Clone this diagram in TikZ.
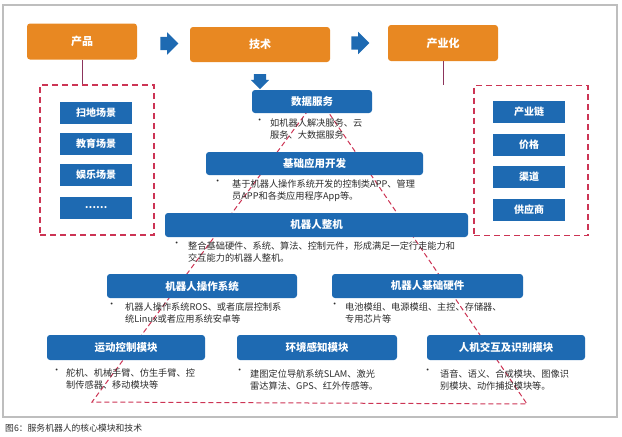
\documentclass[tikz,border=0pt]{standalone}
\usepackage{fontspec}
\setmainfont{Noto Sans CJK SC}
\usetikzlibrary{shapes.arrows, positioning}

\definecolor{stageorange}{RGB}{232,136,34}
\definecolor{moduleblue}{RGB}{30,106,178}
\definecolor{framegray}{RGB}{190,190,190}
\definecolor{triangred}{RGB}{204,52,84}
\definecolor{linkpurple}{RGB}{140,52,92}
\definecolor{notegray}{RGB}{45,45,45}

\begin{document}
\begin{tikzpicture}[
    x=1pt, y=-1pt,
    every node/.style={font=\fontsize{9.2}{12}\selectfont},
    stage/.style={rectangle, fill=stageorange, rounded corners=3pt, text=white, font=\fontsize{11}{13}\selectfont\bfseries, minimum width=110pt, minimum height=36pt, inner sep=0pt},
    module/.style={rectangle, fill=moduleblue, rounded corners=3pt, text=white, font=\fontsize{10.5}{12}\selectfont\bfseries, minimum height=24pt, inner sep=0pt},
    item/.style={rectangle, fill=moduleblue, text=white, font=\fontsize{10}{12}\selectfont\bfseries, minimum width=72pt, minimum height=22pt, inner sep=0pt},
    note/.style={anchor=north west, align=left, text=notegray, inner sep=0pt},
    dot/.style={anchor=north west, text=notegray, inner sep=0pt},
    group/.style={rectangle, draw=triangred, line width=1.6pt, dash pattern=on 6pt off 4pt, minimum width=114pt, minimum height=150pt},
    flow/.style={single arrow, fill=moduleblue, inner xsep=0pt, inner ysep=6.5pt, single arrow head extend=4.5pt, single arrow head indent=0pt, minimum height=18pt},
    link/.style={draw=linkpurple, line width=0.7pt}
]
\useasboundingbox (0,0) rectangle (622,437);
\draw[framegray, line width=1.5pt] (3,5) rectangle (617,417);

% pyramid behind the modules
\coordinate (apex) at (318,97);
\coordinate (baseL) at (92,402);
\coordinate (baseR) at (527,404);
\draw[triangred, line width=1pt, dash pattern=on 5pt off 3pt] (apex) -- (baseL) -- (baseR) -- cycle;

% top row
\node[stage] (chanpin) at (82,41.5) {产品};
\node[stage, minimum width=140pt, minimum height=35pt] (jishu) at (260,44.5) {技术};
\node[stage] (chanye) at (443,43) {产业化};
\node[flow] (arrA) at (166,43.5) {};
\node[flow] (arrB) at (357,43) {};
\node[flow, shape border rotate=270, inner xsep=6pt, inner ysep=0pt, single arrow head extend=3pt, minimum height=15pt] (arrC) at (260,78.5) {};

% product scenes
\node[group] (scenes) at (97,160) {};
\node[item] (s1) at (96,113) {扫地场景};
\node[item] (s2) at (96,144) {教育场景};
\node[item] (s3) at (96,175) {娱乐场景};
\node[item] (s4) at (96,208) {……};

% industrialisation
\node[group] (markets) at (531,160.5) {};
\node[item] (m1) at (529,112) {产业链};
\node[item] (m2) at (529,144.5) {价格};
\node[item] (m3) at (529,176.5) {渠道};
\node[item] (m4) at (529,209.5) {供应商};

\foreach \src/\dst in {chanpin/scenes, chanye/markets} {
    \draw[link] (\src.south) -- (\src.south |- \dst.north);
}

% technology layers
\node[module, minimum width=120pt, minimum height=23pt] (data) at (312,101.5) {数据服务};
\node[dot] (d1) at (255,119) {•};
\node[note] (n1) at (270,119) {如机器人解决服务、云\\服务、大数据服务};

\node[module, minimum width=217pt, minimum height=23pt] (app) at (314.5,163.5) {基础应用开发};
\node[dot] (d2) at (213,180) {•};
\node[note] (n2) at (232,180) {基于机器人操作系统开发的控制类APP、管理\\员APP和各类应用程序App等。};

\node[module, minimum width=303pt] (whole) at (316.5,225) {机器人整机};
\node[dot] (d3) at (172,242) {•};
\node[note] (n3) at (188,242) {整合基础硬件、系统、算法、控制元件，形成满足一定行走能力和\\交互能力的机器人整机。};

\node[module, minimum width=190pt] (os) at (202,286) {机器人操作系统};
\node[dot] (d4) at (107,303) {•};
\node[note] (n4) at (125,303) {机器人操作系统ROS、或者底层控制系\\统Linux或者应用系统安卓等};

\node[module, minimum width=191pt] (hw) at (427.5,286) {机器人基础硬件};
\node[dot] (d5) at (330,303) {•};
\node[note] (n5) at (345,303) {电池模组、电源模组、主控、存储器、\\专用芯片等};

\node[module, minimum width=158pt, minimum height=25pt] (motion) at (126,347.5) {运动控制模块};
\node[dot] (d6) at (52,369) {•};
\node[note] (n6) at (66,369) {舵机、机械手臂、仿生手臂、控\\制传感器、移动模块等};

\node[module, minimum width=160pt, minimum height=25pt] (sense) at (317,347.5) {环境感知模块};
\node[dot] (d7) at (235,369) {•};
\node[note] (n7) at (250,369) {建图定位导航系统SLAM、激光\\雷达算法、GPS、红外传感等。};

\node[module, minimum width=158pt, minimum height=25pt] (hci) at (506,347.5) {人机交互及识别模块};
\node[dot] (d8) at (423,369) {•};
\node[note] (n8) at (440,369) {语音、语义、合成模块、图像识\\别模块、动作捕捉模块等。};

\node[anchor=west, inner sep=0pt, text=notegray, font=\fontsize{8.8}{10}\selectfont] (caption) at (5,428) {图6：服务机器人的核心模块和技术};

\end{tikzpicture}
\end{document}
